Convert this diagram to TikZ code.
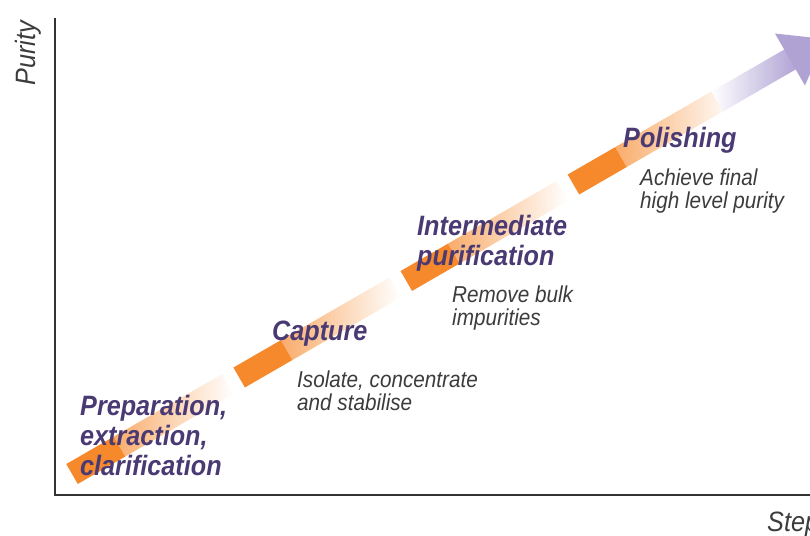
\documentclass[tikz,border=0pt]{standalone}
\usepackage{fontspec}
\usepackage{tikz}
\usepackage{xcolor}
\usetikzlibrary{shadings}
\newfontfamily\labelfont{Liberation Sans}[FakeStretch=0.9]
\definecolor{steporange}{RGB}{246,137,44}
\definecolor{steppurple}{RGB}{74,58,115}
\definecolor{arrowlilac}{RGB}{176,163,212}
\definecolor{notegray}{RGB}{60,60,60}
\tikzstyle{stagename} = [anchor=base west, inner sep=0pt, align=left,
text=steppurple, font=\labelfont\bfseries\itshape\fontsize{28}{30}\selectfont]
\tikzstyle{stagenote} = [anchor=base west, inner sep=0pt, align=left,
text=notegray, font=\labelfont\itshape\fontsize{23}{23}\selectfont]
\tikzstyle{axislabel} = [inner sep=0pt, text=notegray,
font=\labelfont\itshape\fontsize{28}{28}\selectfont]

\begin{document}
\begin{tikzpicture}[x=1pt,y=-1pt]
\useasboundingbox (0,0) rectangle (810,535);
\clip (0,0) rectangle (810,535);

% axes
\coordinate (ytop) at (55,18);
\coordinate (origin) at (55,495);
\coordinate (xend) at (812,495);
\draw[line width=2.5pt, black!80] (ytop) -- (origin) -- (xend);

\node[axislabel, rotate=90, anchor=base west] (purity) at (35,86) {Purity};
\node[axislabel, anchor=base west] (step) at (767,531) {Step};

% band of stages, drawn along the slope
\begin{scope}[shift={(72,474)}, rotate=30]
\foreach \u in {0,193,386,579} {
  \fill[steporange] (\u,-11.5) rectangle ++(55,23);
  \shade[left color=steporange!70!white, right color=white] (\u+55,-11.5) rectangle ++(125,23);
}
\shade[left color=white, right color=arrowlilac] (745,-11.5) rectangle (830,11.5);
\fill[arrowlilac] (829,-30) -- (870,0) -- (829,30) -- cycle;
\end{scope}

% base anchor sits on the last line
\node[stagename] (prep) at (80,475) {Preparation,\\extraction,\\clarification};
\node[stagename] (capture) at (272,340) {Capture};
\node[stagenote] (capturenote) at (297,410) {Isolate, concentrate\\and stabilise};
\node[stagename] (inter) at (417,265) {Intermediate\\purification};
\node[stagenote] (internote) at (452,325) {Remove bulk\\impurities};
\node[stagename] (polish) at (623,147) {Polishing};
\node[stagenote] (polishnote) at (640,208) {Achieve final\\high level purity};

\end{tikzpicture}
\end{document}
